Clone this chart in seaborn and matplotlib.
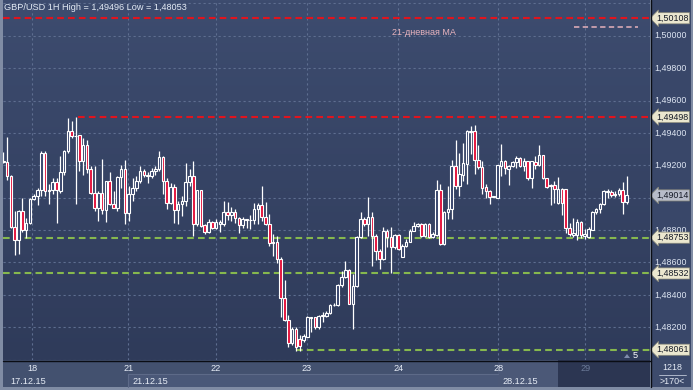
import numpy as np
import pandas as pd
import matplotlib
matplotlib.use("Agg")
import matplotlib.pyplot as plt
import matplotlib.transforms as mtransforms
from matplotlib.patches import Rectangle, Polygon
from matplotlib.lines import Line2D
import seaborn as sns

# ---------------- data (GBP/USD, 1H candles) ----------------
opens = [1.49225,1.49219,1.49133,1.48816,1.48738,1.48918,1.48799,1.48842,1.48990,1.49010,
         1.49045,1.49276,1.49039,1.49045,1.49096,1.49041,1.49157,1.49286,1.49409,1.49383,
         1.49385,1.49225,1.49327,1.49174,1.49030,1.48938,1.49030,1.48922,1.49102,1.48959,
         1.48938,1.49127,1.49174,1.48908,1.49020,1.49061,1.49102,1.49164,1.49133,1.49133,
         1.49164,1.49174,1.49250,1.49106,1.48969,1.49065,1.48922,1.48963,1.48979,1.49098,
         1.49133,1.48840,1.49045,1.48832,1.48785,1.48851,1.48812,1.48836,1.48836,1.48912,
         1.48892,1.48912,1.48873,1.48830,1.48865,1.48861,1.48863,1.48932,1.48953,1.48881,
         1.48840,1.48724,1.48724,1.48622,1.48382,1.48247,1.48100,1.48192,1.48125,1.48120,
         1.48141,1.48258,1.48260,1.48202,1.48268,1.48268,1.48290,1.48335,1.48339,1.48462,
         1.48509,1.48554,1.48346,1.48452,1.48755,1.48868,1.48837,1.48882,1.48765,1.48669,
         1.48622,1.48796,1.48755,1.48694,1.48769,1.48636,1.48704,1.48728,1.48796,1.48827,
         1.48837,1.48765,1.48837,1.48755,1.48771,1.49047,1.48713,1.48912,1.48928,1.49194,
         1.49071,1.49143,1.49211,1.49405,1.49409,1.49235,1.49188,1.49065,1.49041,1.49006,
         1.49000,1.49194,1.49229,1.49180,1.49194,1.49219,1.49245,1.49198,1.49225,1.49119,
         1.49219,1.49200,1.49262,1.49119,1.49076,1.49078,1.48965,1.49051,1.49051,1.48811,
         1.48771,1.48771,1.48852,1.48766,1.48760,1.48801,1.48912,1.48928,1.48959,1.49035,
         1.49037,1.49016,1.49020,1.49047,1.48975]
highs = [1.49282,1.49372,1.49140,1.48918,1.48925,1.48996,1.48877,1.48995,1.49020,1.49057,
         1.49290,1.49286,1.49082,1.49123,1.49123,1.49256,1.49297,1.49491,1.49471,1.49496,
         1.49389,1.49368,1.49358,1.49194,1.49194,1.49041,1.49239,1.49106,1.49157,1.49041,
         1.49133,1.49204,1.49235,1.49071,1.49123,1.49133,1.49198,1.49174,1.49157,1.49184,
         1.49194,1.49286,1.49256,1.49123,1.49092,1.49082,1.48979,1.49010,1.49215,1.49174,
         1.49225,1.49050,1.49050,1.48836,1.48867,1.48857,1.48867,1.48863,1.48980,1.48973,
         1.48943,1.48928,1.48881,1.48881,1.48869,1.48894,1.48969,1.48969,1.49072,1.48973,
         1.48898,1.48775,1.48765,1.48636,1.48489,1.48274,1.48202,1.48202,1.48151,1.48157,
         1.48268,1.48264,1.48264,1.48274,1.48294,1.48301,1.48346,1.48350,1.48468,1.48550,
         1.48606,1.48560,1.48530,1.48765,1.48909,1.48878,1.49005,1.48909,1.48775,1.48683,
         1.48816,1.48806,1.48816,1.48775,1.48775,1.48714,1.48745,1.48806,1.48847,1.48841,
         1.48841,1.48841,1.48841,1.48786,1.49108,1.49086,1.48918,1.49071,1.49231,1.49358,
         1.49276,1.49335,1.49419,1.49440,1.49446,1.49327,1.49225,1.49086,1.49045,1.49010,
         1.49204,1.49333,1.49233,1.49204,1.49225,1.49256,1.49249,1.49245,1.49229,1.49229,
         1.49260,1.49327,1.49266,1.49123,1.49082,1.49102,1.49129,1.49057,1.49055,1.48846,
         1.48877,1.48867,1.48856,1.48805,1.48816,1.48918,1.48938,1.48969,1.49047,1.49051,
         1.49047,1.49041,1.49061,1.49098,1.49133]
lows = [1.49215,1.49112,1.48810,1.48644,1.48652,1.48791,1.48748,1.48836,1.48984,1.48955,
        1.49010,1.49010,1.48963,1.49020,1.48846,1.49030,1.49143,1.49276,1.49368,1.48959,
        1.49164,1.49143,1.49153,1.49025,1.48918,1.48856,1.48897,1.48852,1.48955,1.48934,
        1.48918,1.49061,1.48840,1.48856,1.48979,1.49041,1.49092,1.49127,1.49092,1.49123,
        1.49143,1.49164,1.49024,1.48928,1.48959,1.48846,1.48836,1.48887,1.48949,1.49071,
        1.48764,1.48826,1.48816,1.48775,1.48779,1.48806,1.48806,1.48791,1.48826,1.48863,
        1.48857,1.48846,1.48779,1.48812,1.48812,1.48806,1.48840,1.48836,1.48857,1.48832,
        1.48703,1.48642,1.48595,1.48264,1.48240,1.48079,1.48090,1.48055,1.48053,1.48110,
        1.48137,1.48172,1.48186,1.48192,1.48233,1.48260,1.48284,1.48329,1.48329,1.48448,
        1.48505,1.48342,1.48192,1.48448,1.48751,1.48827,1.48765,1.48581,1.48612,1.48561,
        1.48612,1.48694,1.48534,1.48683,1.48679,1.48632,1.48698,1.48724,1.48792,1.48816,
        1.48759,1.48755,1.48751,1.48751,1.48764,1.48709,1.48709,1.48871,1.48867,1.49051,
        1.49010,1.49102,1.49082,1.49270,1.49149,1.49180,1.49024,1.49000,1.48959,1.49004,
        1.48996,1.49133,1.49149,1.49076,1.49188,1.49184,1.49188,1.49164,1.49112,1.49057,
        1.49174,1.49194,1.49115,1.49061,1.48953,1.48965,1.48959,1.48893,1.48779,1.48764,
        1.48758,1.48738,1.48754,1.48744,1.48754,1.48799,1.48897,1.48908,1.48955,1.49000,
        1.49006,1.49006,1.49010,1.48902,1.48963]
closes = [1.49219,1.49133,1.48816,1.48738,1.48918,1.48799,1.48842,1.48990,1.49010,1.49045,
          1.49276,1.49041,1.49045,1.49096,1.49045,1.49157,1.49286,1.49409,1.49378,1.49378,
          1.49229,1.49327,1.49174,1.49030,1.48938,1.49030,1.48922,1.49102,1.48959,1.48938,
          1.49127,1.49174,1.48908,1.49020,1.49061,1.49102,1.49164,1.49137,1.49137,1.49164,
          1.49174,1.49250,1.49106,1.48969,1.49065,1.48922,1.48963,1.48979,1.49098,1.49133,
          1.48840,1.49045,1.48826,1.48785,1.48850,1.48812,1.48851,1.48851,1.48912,1.48892,
          1.48912,1.48873,1.48830,1.48867,1.48867,1.48865,1.48932,1.48953,1.48881,1.48840,
          1.48720,1.48720,1.48621,1.48382,1.48247,1.48100,1.48192,1.48079,1.48084,1.48147,
          1.48264,1.48262,1.48202,1.48268,1.48274,1.48290,1.48335,1.48339,1.48462,1.48513,
          1.48554,1.48346,1.48452,1.48755,1.48868,1.48837,1.48882,1.48765,1.48669,1.48622,
          1.48796,1.48755,1.48694,1.48769,1.48683,1.48704,1.48728,1.48796,1.48827,1.48837,
          1.48765,1.48837,1.48755,1.48775,1.49047,1.48713,1.48912,1.48928,1.49194,1.49071,
          1.49147,1.49215,1.49409,1.49409,1.49235,1.49188,1.49061,1.49041,1.49006,1.49006,
          1.49200,1.49229,1.49184,1.49194,1.49219,1.49245,1.49198,1.49225,1.49119,1.49225,
          1.49204,1.49266,1.49119,1.49067,1.49073,1.49051,1.49051,1.48965,1.48811,1.48775,
          1.48781,1.48852,1.48771,1.48775,1.48809,1.48912,1.48928,1.48959,1.49041,1.49041,
          1.49014,1.49024,1.49047,1.48975,1.49014]

title_text = "GBP/USD 1H High = 1,49496 Low = 1,48053"
ma_label = "21-дневная МА"
red_levels = [1.50108, 1.49498]
green_levels = [1.48753, 1.48532, 1.48061]
last_price = 1.49014
price_ticks = [1.500, 1.498, 1.496, 1.494, 1.492, 1.488, 1.486, 1.484, 1.482]
day_ticks = [7.55, 32.9, 56.0, 79.9, 103.9, 130.2, 153.2]
day_labels = ["18", "21", "22", "23", "24", "28", "29"]
date_labels = ["17.12.15", "21.12.15", "28.12.15"]
corner_top, corner_bottom = "1218", ">170<"

df = pd.DataFrame({"open": opens, "high": highs, "low": lows, "close": closes})
df["idx"] = np.arange(len(df))

# ---------------- styling ----------------
sns.set_theme(style="dark")
plt.rcParams['font.family'] = ['Liberation Sans', 'DejaVu Sans']

W, H = 693, 390
fig = plt.figure(figsize=(6.93, 3.9), dpi=100)
fig.patch.set_facecolor('#808ca4')

def fr(x0, y0, x1, y1):
    return [x0 / W, 1 - y1 / H, (x1 - x0) / W, (y1 - y0) / H]

def frect(x0, y0, x1, y1, col):
    fig.patches.append(Rectangle((x0 / W, 1 - y1 / H), (x1 - x0) / W, (y1 - y0) / H,
                                 transform=fig.transFigure, facecolor=col,
                                 edgecolor='none', zorder=-5))

def fline(xs, ys, col, lw):
    fig.lines.append(Line2D([x / W for x in xs], [1 - y / H for y in ys],
                            transform=fig.transFigure, color=col, lw=lw, zorder=-4))

# panels behind axes
frect(651, 0, 691, 360, '#394769')
frect(651, 360, 691, 387, '#3d4b6c')
frect(3, 360, 650, 387, '#43516f')
frect(128, 374, 498, 387, '#4a5878')
frect(498, 360, 558, 387, '#4b5877')
frect(558, 360, 650, 387, '#2c3652')
fline([128, 498], [374, 374], '#5d6a88', 0.8)
fline([128, 128], [374, 387], '#5d6a88', 0.8)

BG_TOP = np.array([0x3d, 0x4c, 0x6f]) / 255
BG_BOT = np.array([0x2f, 0x3b, 0x5a]) / 255

ax = fig.add_axes(fr(3, 0, 650, 360))
grad = np.linspace(0, 1, 256)[:, None, None]
img = BG_TOP * (1 - grad) + BG_BOT * grad
ax.imshow(img, extent=[0, 1, 0, 1], transform=ax.transAxes, aspect='auto', zorder=0)
ax.set_xlim(-0.08, 170.18)
ax.set_ylim(1.479975, 1.502208)
for s in ax.spines.values():
    s.set_visible(False)
ax.set_xticks([])
ax.set_yticks([])
ax.grid(False)

# grid
gcol = '#5e6e90'
for p in np.arange(1.480, 1.5021, 0.002):
    ax.axhline(p, color=gcol, lw=0.8, dashes=(2, 2.5), zorder=1)
for d in day_ticks:
    ax.axvline(d, color=gcol, lw=0.8, dashes=(2, 2.5), zorder=1)

# levels
RED, GREEN = '#e0141e', '#86b84e'
ax.axhline(red_levels[0], color=RED, lw=1.5, dashes=(3.2, 2.0), zorder=2)
ax.hlines(red_levels[1], 19.7, 171, color=RED, lw=1.5, linestyles=(0, (3.2, 2.0)), zorder=2)
ax.axhline(green_levels[0], color=GREEN, lw=1.5, dashes=(3.2, 2.0), zorder=2)
ax.axhline(green_levels[1], color=GREEN, lw=1.5, dashes=(3.2, 2.0), zorder=2)
ax.hlines(green_levels[2], 77.0, 171, color=GREEN, lw=1.5, linestyles=(0, (3.2, 2.0)), zorder=2)
ax.hlines(1.50054, 150.2, 167.0, color='#e6b2bc', lw=1.1, linestyles=(0, (3.5, 2.2)), zorder=2)
ax.text(102.3, 1.50018, ma_label, color='#e8b4be', fontsize=6.5, va='center', ha='left', zorder=3)

# candles
up = df["close"] >= df["open"]
ax.vlines(df["idx"], df["low"], df["high"], color='white', lw=0.9, zorder=3)
body_bottom = np.minimum(df["open"], df["close"])
body_h = np.maximum((df["close"] - df["open"]).abs(), 0.000015)
face = np.where(up, '#34426a', '#e3103a')
ax.bar(df["idx"], body_h, bottom=body_bottom, width=0.72, color=face,
       edgecolor='white', linewidth=0.8, zorder=4)

# title
fig.text(4 / W, 1 - 8 / H, title_text, color='#e4ebf5', fontsize=6.6, va='center', ha='left')

# separators on top
fig.lines.append(Line2D([650.5 / W, 650.5 / W], [1 - 387 / H, 1.0], transform=fig.transFigure,
                        color='#0a0d14', lw=1.0, zorder=5))
fig.lines.append(Line2D([3 / W, 650.5 / W], [1 - 360.5 / H, 1 - 360.5 / H], transform=fig.transFigure,
                        color='#0a0d14', lw=1.0, zorder=5))

tr = mtransforms.blended_transform_factory(fig.transFigure, ax.transData)
for p in price_ticks:
    ax.text(654 / W, p, f"{p:.5f}".replace('.', ','), transform=tr, color='#dde5f2',
            fontsize=6.4, va='center', ha='left', clip_on=False)

def tag(p, bg):
    ax.text(656 / W, p, f"{p:.5f}".replace('.', ','), transform=tr, color='#151a26',
            fontsize=6.4, va='center', ha='left', clip_on=False, zorder=10,
            bbox=dict(boxstyle='larrow,pad=0.12', facecolor=bg, edgecolor='#8a8a7a', lw=0.5))

for p in red_levels + green_levels:
    tag(p, '#ebe7cf')
tag(last_price, '#b7bcc9')

# bottom labels
trx = mtransforms.blended_transform_factory(ax.transData, fig.transFigure)
for d, lab in zip(day_ticks, day_labels):
    col = '#6b7a98' if lab == "29" else '#e6ecf6'
    ax.text(d, 1 - 368.5 / H, lab, transform=trx, color=col, fontsize=6.6,
            ha='center', va='center', clip_on=False)
for x0, lab in zip([10, 132, 502], date_labels):
    fig.text(x0 / W, 1 - 381 / H, lab, color='#e6ecf6', fontsize=6.6, ha='left', va='center')

fig.text(672 / W, 1 - 368 / H, corner_top, color='#e6ecf6', fontsize=6.4, ha='center', va='center')
fig.lines.append(Line2D([659 / W, 686 / W], [1 - 375 / H, 1 - 375 / H], transform=fig.transFigure,
                        color='#c0c8d8', lw=0.6))
fig.text(672 / W, 1 - 381.5 / H, corner_bottom, color='#e6ecf6', fontsize=6.4, ha='center', va='center')

# small marker near bottom right of plot
fig.patches.append(Polygon([[624 / W, 1 - 358 / H], [630 / W, 1 - 358 / H], [627 / W, 1 - 354 / H]],
                           closed=True, transform=fig.transFigure, facecolor='#7f8cab',
                           edgecolor='none', zorder=6))
fig.text(633 / W, 1 - 356 / H, "5", color='#ffffff', fontsize=6.6, ha='left', va='center')

fig.savefig("out.png", dpi=100, facecolor=fig.get_facecolor())
